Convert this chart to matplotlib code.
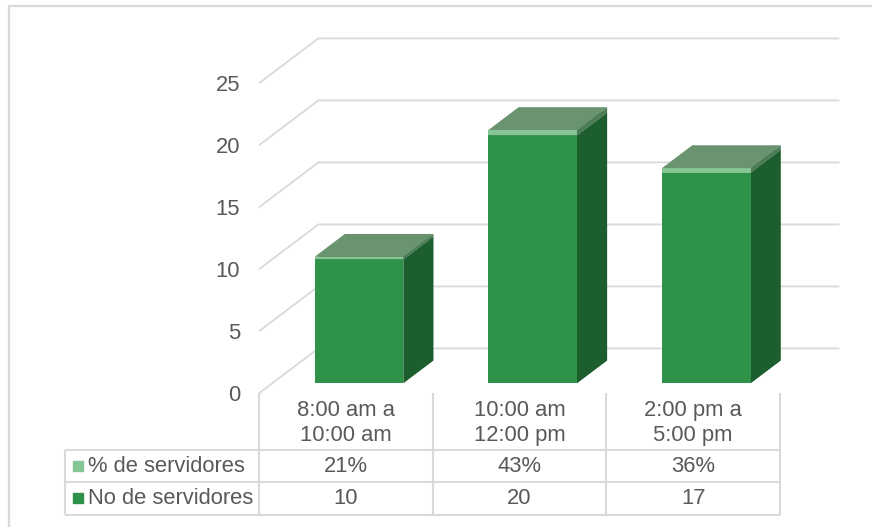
import matplotlib

matplotlib.use("Agg")
import matplotlib.pyplot as plt
from matplotlib.patches import Polygon
from matplotlib.transforms import blended_transform_factory

plt.rcParams["font.family"] = ["Liberation Sans", "DejaVu Sans"]

categories = ["8:00 am a\n10:00 am", "10:00 am\n12:00 pm", "2:00 pm a\n5:00 pm"]
no_servidores = [10, 20, 17]
pct_servidores = [0.21, 0.43, 0.36]
series_names = ["% de servidores", "No de servidores"]
yticks = [0, 5, 10, 15, 20, 25]

TEXT = "#595959"
GRID = "#D9D9D9"
FS = 15.8

# face colours: front, side, top
no_colors = ("#2E9249", "#1C5E2E", "#6A9470")
pct_colors = ("#86C594", "#4E7B57", "#6A9470")

W, H = 872, 527
fig = plt.figure(figsize=(W / 100, H / 100), dpi=100)

# front plane of the floor: x 259..780 px, value 0 at y 393, 25 at y 83
ax = fig.add_axes([259 / W, 1 - 393.3 / H, 521 / W, 310 / H])
ax.set_xlim(0, 3)
ax.set_ylim(0, 25)
ax.patch.set_visible(False)
for s in ax.spines.values():
    s.set_visible(False)
ax.set_xticks([])
ax.set_yticks(yticks)
ax.tick_params(axis="y", length=0, pad=13.7, labelsize=FS, labelcolor=TEXT)

# oblique depth offset (data units) for a full unit of depth
DX, DY = 0.342, 3.62


def proj(x, y, z):
    return (x + z * DX, y + z * DY)


# side wall diagonals and back wall gridlines
for v in yticks:
    pts = [proj(0, v, 0), proj(0, v, 1), proj(3, v, 1)]
    ax.plot([p[0] for p in pts], [p[1] for p in pts], color=GRID,
            lw=1.3, zorder=1, clip_on=False, solid_capstyle="butt")

# 3D stacked columns
bw, z0, z1 = 0.51, 0.222, 0.73
for i in range(len(categories)):
    xl, xr = i + 0.5 - bw / 2, i + 0.5 + bw / 2
    segs = [
        (0, no_servidores[i], no_colors),
        (no_servidores[i], no_servidores[i] + pct_servidores[i], pct_colors),
    ]
    for y0, y1, (cf, cs, ct) in segs:
        side = [proj(xr, y0, z0), proj(xr, y0, z1), proj(xr, y1, z1), proj(xr, y1, z0)]
        front = [proj(xl, y0, z0), proj(xr, y0, z0), proj(xr, y1, z0), proj(xl, y1, z0)]
        top = [proj(xl, y1, z0), proj(xr, y1, z0), proj(xr, y1, z1), proj(xl, y1, z1)]
        ax.add_patch(Polygon(side, closed=True, facecolor=cs, edgecolor="none", zorder=3, clip_on=False))
        ax.add_patch(Polygon(front, closed=True, facecolor=cf, edgecolor="none", zorder=3, clip_on=False))
        ax.add_patch(Polygon(top, closed=True, facecolor=ct, edgecolor="none", zorder=3, clip_on=False))

# data table under the plot
tr = blended_transform_factory(ax.transData, fig.transFigure)


def fy(px):
    return 1 - px / H


row_tops = [393.3, 450, 481.7, 515]
left_col = -1.117
lkw = dict(color=GRID, lw=1.5, transform=tr, clip_on=False, solid_capstyle="butt")
for k in range(len(categories) + 1):
    ax.plot([k, k], [fy(row_tops[0]), fy(row_tops[-1])], **lkw)
ax.plot([left_col, left_col], [fy(row_tops[1]), fy(row_tops[-1])], **lkw)
for yp in row_tops[1:]:
    ax.plot([left_col, len(categories)], [fy(yp), fy(yp)], **lkw)

for i, cat in enumerate(categories):
    ax.text(i + 0.5, fy(423), cat, transform=tr, ha="center", va="center",
            fontsize=FS, color=TEXT, linespacing=1.25)
    ax.text(i + 0.5, fy(466), f"{pct_servidores[i]:.0%}", transform=tr,
            ha="center", va="center", fontsize=FS, color=TEXT)
    ax.text(i + 0.5, fy(498), f"{no_servidores[i]}", transform=tr,
            ha="center", va="center", fontsize=FS, color=TEXT)

# legend keys inside the table
for name, col, yp in [(series_names[0], pct_colors[0], 466), (series_names[1], no_colors[0], 498)]:
    ax.plot([left_col + 0.075], [fy(yp)], marker="s", markersize=6.8,
            color=col, transform=tr, clip_on=False, linestyle="none")
    fig.text(88 / W, fy(yp), name, ha="left", va="center", fontsize=FS, color=TEXT)

# chart area border (top and left edges)
fig.add_artist(plt.Line2D([9 / W, 1], [fy(6), fy(6)], color=GRID, lw=1.6))
fig.add_artist(plt.Line2D([9 / W, 9 / W], [fy(6), 0], color=GRID, lw=1.6))

fig.savefig("out.png", dpi=100)
